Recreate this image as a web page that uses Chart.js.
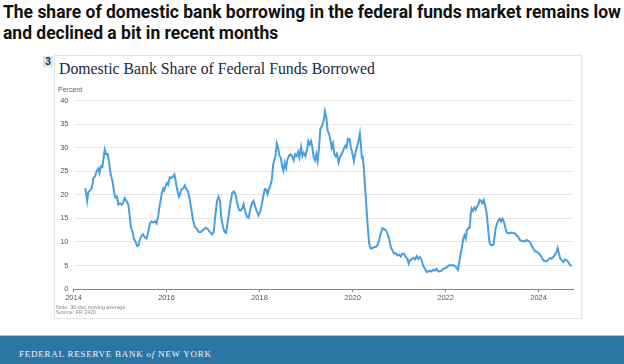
<!DOCTYPE html>
<html>
<head>
<meta charset="utf-8">
<script src="https://cdn.jsdelivr.net/npm/chart.js@4/dist/chart.umd.min.js"></script>
<style>
  body { margin: 0; width: 624px; height: 364px; background: #fff; overflow: hidden; position: relative; }
  .abs { position: absolute; white-space: nowrap; }
  #head { left: 3px; top: 1px; font: 700 19px Roboto, sans-serif; line-height: 21px; color: #111; transform-origin: 0 0; }
  #card { left: 54px; top: 55px; width: 526px; height: 262px; border: 1px solid #e4e4e4; box-shadow: 0 0 2px rgba(0,0,0,0.06); }
  #num { left: 43px; top: 56px; width: 10px; height: 11px; background: #dde1e6; color: #1d3557;
         font: 700 10px "Liberation Sans", Arial, sans-serif; line-height: 11px; text-align: center; }
  #title { left: 59px; top: 61px; font: 15.8px "Liberation Serif", serif; line-height: 16px; color: #1b2a3e; }
  #unit { left: 58px; top: 86px; font: 7px "Liberation Sans", Arial, sans-serif; color: #666; }
  #wrap { left: 55px; top: 91px; width: 525px; height: 214px; }
  #wrap canvas { display: block; }
  #notes { left: 56px; top: 305px; font: 5.3px "Liberation Sans", Arial, sans-serif; line-height: 4.8px; color: #888; }
  #rule { left: 0; top: 335px; width: 624px; height: 1px; background: #a9c7dc; }
  #band { left: 0; top: 336px; width: 624px; height: 28px; background: #2c76a3; }
  #brand { left: 19px; top: 349px; font: 9px "Liberation Serif", serif; letter-spacing: 0.75px; color: #eef3f8; }
</style>
</head>
<body>
<div id="head" class="abs"><div id="h1">The share of domestic bank borrowing in the federal funds market remains low</div><div>and declined a bit in recent months</div></div>
<div id="card" class="abs"></div>
<div id="num" class="abs">3</div>
<div id="title" class="abs">Domestic Bank Share of Federal Funds Borrowed</div>
<div id="unit" class="abs">Percent</div>
<div id="wrap" class="abs"><canvas id="c" width="525" height="214"></canvas></div>
<div id="notes" class="abs">Note: 30-day moving average.<br>Source: FR 2420</div>
<div id="rule" class="abs"></div>
<div id="band" class="abs"></div>
<div id="brand" class="abs">FEDERAL RESERVE BANK <i>of</i> NEW YORK</div>
<script>
// dates as decimal years, share in percent
const dates = [
  2014.250, 2014.271, 2014.293, 2014.321, 2014.357, 2014.393, 2014.429, 2014.464, 2014.500, 2014.536,
  2014.557, 2014.593, 2014.621, 2014.643, 2014.671, 2014.700, 2014.736, 2014.771, 2014.800, 2014.836,
  2014.871, 2014.900, 2014.936, 2014.964, 2015.000, 2015.036, 2015.071, 2015.100, 2015.143, 2015.179,
  2015.214, 2015.236, 2015.271, 2015.300, 2015.336, 2015.371, 2015.400, 2015.429, 2015.471, 2015.500,
  2015.536, 2015.571, 2015.607, 2015.643, 2015.679, 2015.714, 2015.750, 2015.786, 2015.821, 2015.843,
  2015.871, 2015.900, 2015.929, 2015.950, 2015.979, 2016.007, 2016.036, 2016.071, 2016.107, 2016.143,
  2016.171, 2016.200, 2016.229, 2016.264, 2016.286, 2016.321, 2016.357, 2016.393, 2016.429, 2016.464,
  2016.500, 2016.536, 2016.571, 2016.607, 2016.643, 2016.693, 2016.736, 2016.786, 2016.836, 2016.893,
  2016.929, 2016.979, 2017.014, 2017.050, 2017.086, 2017.121, 2017.150, 2017.179, 2017.214, 2017.250,
  2017.279, 2017.307, 2017.343, 2017.379, 2017.414, 2017.450, 2017.486, 2017.521, 2017.557, 2017.593,
  2017.629, 2017.657, 2017.693, 2017.729, 2017.764, 2017.800, 2017.836, 2017.871, 2017.907, 2017.943,
  2017.979, 2018.014, 2018.050, 2018.086, 2018.114, 2018.143, 2018.171, 2018.200, 2018.236, 2018.264,
  2018.293, 2018.321, 2018.343, 2018.371, 2018.400, 2018.429, 2018.457, 2018.486, 2018.514, 2018.543,
  2018.571, 2018.600, 2018.629, 2018.664, 2018.700, 2018.736, 2018.764, 2018.800, 2018.829, 2018.857,
  2018.893, 2018.921, 2018.950, 2018.986, 2019.021, 2019.050, 2019.079, 2019.107, 2019.136, 2019.164,
  2019.193, 2019.221, 2019.250, 2019.279, 2019.307, 2019.343, 2019.379, 2019.407, 2019.436, 2019.464,
  2019.493, 2019.521, 2019.550, 2019.579, 2019.607, 2019.636, 2019.664, 2019.700, 2019.736, 2019.771,
  2019.807, 2019.843, 2019.871, 2019.900, 2019.936, 2019.964, 2020.000, 2020.029, 2020.057, 2020.093,
  2020.129, 2020.157, 2020.179, 2020.200, 2020.221, 2020.243, 2020.271, 2020.300, 2020.329, 2020.357,
  2020.393, 2020.429, 2020.464, 2020.500, 2020.536, 2020.571, 2020.607, 2020.643, 2020.679, 2020.714,
  2020.750, 2020.786, 2020.821, 2020.857, 2020.893, 2020.929, 2020.964, 2021.000, 2021.036, 2021.071,
  2021.107, 2021.143, 2021.179, 2021.207, 2021.236, 2021.271, 2021.307, 2021.343, 2021.379, 2021.414,
  2021.450, 2021.486, 2021.521, 2021.557, 2021.593, 2021.629, 2021.664, 2021.700, 2021.736, 2021.771,
  2021.807, 2021.843, 2021.879, 2021.914, 2021.950, 2021.986, 2022.021, 2022.057, 2022.086, 2022.122,
  2022.158, 2022.194, 2022.230, 2022.266, 2022.295, 2022.324, 2022.353, 2022.381, 2022.410, 2022.432,
  2022.460, 2022.489, 2022.518, 2022.540, 2022.561, 2022.590, 2022.619, 2022.647, 2022.676, 2022.705,
  2022.734, 2022.763, 2022.791, 2022.820, 2022.849, 2022.878, 2022.899, 2022.921, 2022.942, 2022.971,
  2023.000, 2023.029, 2023.058, 2023.079, 2023.108, 2023.137, 2023.165, 2023.194, 2023.223, 2023.252,
  2023.281, 2023.309, 2023.345, 2023.381, 2023.417, 2023.453, 2023.489, 2023.525, 2023.561, 2023.597,
  2023.633, 2023.669, 2023.705, 2023.741, 2023.777, 2023.813, 2023.849, 2023.885, 2023.921, 2023.957,
  2023.993, 2024.029, 2024.065, 2024.101, 2024.137, 2024.173, 2024.209, 2024.245, 2024.281, 2024.317,
  2024.353, 2024.388, 2024.410, 2024.439, 2024.468, 2024.496, 2024.532, 2024.568, 2024.604, 2024.640,
  2024.676, 2024.712
];
const share = [
  21.4, 20.4, 18.7, 20.6, 20.9, 21.4, 23.6, 23.9, 25.1, 25.6,
  24.6, 26.1, 25.9, 27.5, 29.6, 28.6, 28.7, 26.4, 24.3, 23.0,
  20.7, 19.4, 19.6, 17.9, 18.2, 17.9, 18.4, 19.3, 18.6, 17.9,
  15.0, 13.0, 12.1, 10.7, 10.0, 9.1, 9.3, 10.6, 11.4, 11.6,
  10.9, 10.7, 12.1, 13.9, 14.3, 14.1, 14.4, 13.9, 15.4, 17.1,
  18.7, 20.4, 21.3, 20.9, 21.8, 22.5, 22.1, 23.7, 23.6, 23.9,
  24.3, 22.7, 21.1, 19.6, 20.0, 21.1, 21.3, 22.0, 21.1, 20.7,
  18.9, 16.8, 14.6, 13.2, 12.9, 12.1, 12.1, 12.5, 13.0, 12.7,
  12.1, 11.6, 12.1, 15.7, 18.7, 19.6, 18.6, 15.0, 13.2, 12.1,
  11.9, 13.6, 16.1, 18.6, 20.4, 20.7, 20.0, 18.2, 16.8, 16.6,
  17.1, 18.0, 16.4, 15.4, 15.1, 16.8, 18.2, 18.7, 17.5, 16.4,
  15.6, 16.4, 18.0, 20.0, 21.2, 21.1, 20.1, 21.1, 22.1, 23.2,
  26.4, 27.5, 28.2, 30.9, 30.0, 28.2, 27.9, 26.1, 25.1, 26.8,
  25.7, 27.5, 28.2, 28.6, 28.2, 27.3, 28.6, 28.2, 29.1, 27.9,
  30.1, 28.2, 28.9, 28.2, 29.6, 31.4, 30.7, 31.4, 30.0, 28.0,
  27.3, 28.6, 27.1, 30.0, 33.9, 34.6, 35.7, 37.7, 36.4, 33.6,
  33.0, 31.8, 30.0, 30.9, 28.7, 28.2, 28.7, 26.8, 28.2, 28.7,
  29.6, 30.4, 30.0, 31.9, 31.8, 30.0, 28.6, 27.1, 28.7, 30.0,
  31.4, 33.0, 30.7, 27.9, 28.0, 25.7, 21.4, 17.1, 12.9, 9.6,
  8.6, 8.7, 8.9, 8.9, 9.3, 10.4, 11.8, 12.9, 12.7, 12.5,
  11.8, 10.7, 8.9, 8.2, 7.5, 7.6, 7.1, 7.3, 6.9, 7.5,
  7.5, 6.8, 6.4, 5.4, 6.1, 6.3, 6.6, 6.3, 7.0, 6.4,
  6.8, 6.1, 4.9, 4.3, 3.6, 3.7, 3.9, 3.7, 4.1, 3.9,
  4.3, 3.7, 3.8, 3.9, 4.3, 4.4, 4.6, 4.9, 5.1, 5.0,
  5.1, 4.9, 4.6, 4.1, 5.7, 7.5, 8.9, 10.7, 11.4, 10.7,
  12.5, 12.9, 13.0, 15.7, 17.1, 16.6, 17.3, 16.8, 17.5, 17.9,
  18.9, 18.7, 18.2, 18.9, 17.7, 16.4, 14.6, 12.1, 10.0, 9.3,
  9.3, 9.4, 11.4, 13.0, 13.9, 14.6, 14.9, 14.3, 14.9, 14.3,
  13.2, 12.1, 11.8, 11.9, 12.0, 11.9, 11.8, 11.4, 11.1, 10.4,
  10.2, 10.2, 10.1, 10.4, 10.2, 10.0, 9.3, 8.6, 8.0, 7.9,
  7.7, 7.3, 6.8, 6.1, 5.9, 5.9, 6.2, 6.6, 6.4, 6.8,
  7.3, 7.9, 8.7, 7.5, 6.4, 6.1, 5.7, 6.3, 6.1, 5.7,
  5.1, 4.9
];
const yearTicks = [2014, 2016, 2018, 2020, 2022, 2024];

// squeeze the headline so the first line fills the width (condensed look)
const h = document.getElementById('head');
const w = document.getElementById('h1').scrollWidth;
h.style.transform = 'scaleX(' + (618 / w) + ')';

const tickFont = { family: '"Liberation Sans", Arial, sans-serif', size: 7.5 };

new Chart(document.getElementById('c'), {
  type: 'line',
  data: {
    datasets: [{
      data: dates.map((d, i) => ({ x: d, y: share[i] })),
      borderColor: '#4a9fde',
      borderWidth: 2,
      pointRadius: 0,
      tension: 0
    }]
  },
  options: {
    responsive: false,
    animation: false,
    devicePixelRatio: 1,
    layout: { padding: { top: 6, right: 7, left: 0, bottom: 0 } },
    plugins: { legend: { display: false }, tooltip: { enabled: false } },
    scales: {
      x: {
        type: 'linear',
        min: 2014,
        max: 2024.74,
        afterBuildTicks: s => { s.ticks = yearTicks.map(v => ({ value: v })); },
        afterFit: s => { s.height = 16; },
        ticks: { font: tickFont, color: '#555', padding: 1, maxRotation: 0, autoSkip: false, callback: v => String(v) },
        grid: { drawOnChartArea: false, drawTicks: true, tickLength: 3, color: '#888' },
        border: { color: '#888', width: 1 }
      },
      y: {
        min: 0,
        max: 40,
        afterFit: s => { s.width = 18.5; },
        ticks: { stepSize: 5, font: tickFont, color: '#555', padding: 5 },
        grid: { color: '#e6e6e6', drawTicks: false },
        border: { display: false }
      }
    }
  }
});
</script>
</body>
</html>
